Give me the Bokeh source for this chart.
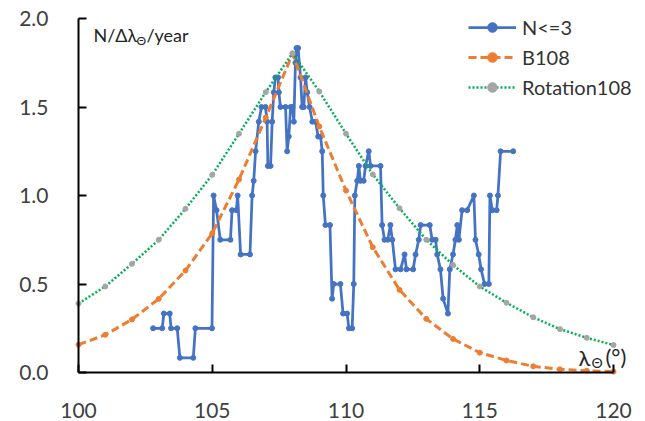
from bokeh.plotting import figure
from bokeh.models import Label, Legend, LegendItem, FixedTicker, Range1d
from bokeh.embed import file_html
from bokeh.resources import INLINE

# ---------------- data ----------------
deg = [100, 101, 102, 103, 104, 105, 106, 107, 108, 109, 110,
       111, 112, 113, 114, 115, 116, 117, 118, 119, 120]
b108 = [0.157, 0.213, 0.300, 0.416, 0.576, 0.787, 1.090, 1.440, 1.800, 1.390, 1.028,
        0.708, 0.467, 0.303, 0.190, 0.112, 0.068, 0.035, 0.018, 0.010, 0.005]
rot108 = [0.390, 0.486, 0.614, 0.750, 0.925, 1.117, 1.349, 1.584, 1.804, 1.588, 1.349,
          1.119, 0.928, 0.750, 0.608, 0.486, 0.394, 0.312, 0.245, 0.196, 0.155]

n3_x = [102.79, 103.13, 103.19, 103.41, 103.46, 103.69, 103.79, 104.29, 104.37, 104.99,
        105.05, 105.16, 105.30, 105.68, 105.74, 105.90, 105.95, 106.06, 106.41, 106.49,
        106.55, 106.62, 106.74, 106.84, 106.99, 107.05, 107.08, 107.18, 107.24, 107.30,
        107.36, 107.46, 107.49, 107.55, 107.74, 107.80, 107.86, 107.93, 108.00, 108.05,
        108.11, 108.15, 108.21, 108.30, 108.36, 108.42, 108.49, 108.55, 108.64, 108.74,
        108.86, 108.96, 109.05, 109.11, 109.15, 109.23, 109.40, 109.48, 109.54, 109.79,
        109.89, 110.04, 110.11, 110.23, 110.29, 110.33, 110.42, 110.48, 110.54, 110.66,
        110.73, 110.85, 110.92, 111.29, 111.35, 111.44, 111.56, 111.66, 111.73, 111.85,
        112.04, 112.19, 112.26, 112.51, 112.60, 112.72, 112.79, 113.13, 113.22, 113.35,
        113.41, 113.53, 113.63, 113.81, 113.88, 114.00, 114.09, 114.16, 114.22, 114.34,
        114.53, 114.78, 114.84, 114.96, 115.05, 115.18, 115.34, 115.38, 115.47, 115.63,
        115.68, 115.78, 116.25]
n3_y = [0.250, 0.250, 0.333, 0.333, 0.250, 0.250, 0.083, 0.083, 0.250, 0.250,
        1.000, 0.917, 0.750, 0.750, 0.917, 0.917, 1.000, 0.667, 0.667, 1.000,
        1.083, 1.250, 1.417, 1.500, 1.500, 1.417, 1.167, 1.167, 1.417, 1.583,
        1.667, 1.667, 1.583, 1.500, 1.500, 1.250, 1.333, 1.500, 1.500, 1.417,
        1.750, 1.833, 1.833, 1.667, 1.500, 1.500, 1.667, 1.583, 1.500, 1.417,
        1.417, 1.333, 1.333, 1.250, 1.000, 0.833, 0.833, 0.417, 0.500, 0.500,
        0.333, 0.333, 0.250, 0.250, 0.500, 1.000, 1.083, 1.167, 1.083, 1.083,
        1.167, 1.250, 1.167, 1.167, 0.833, 0.750, 0.750, 0.833, 0.750, 0.583,
        0.583, 0.667, 0.583, 0.583, 0.667, 0.750, 0.833, 0.833, 0.750, 0.750,
        0.667, 0.583, 0.417, 0.333, 0.583, 0.667, 0.750, 0.833, 0.750, 0.917,
        0.917, 1.000, 0.750, 0.667, 0.583, 0.500, 0.500, 1.000, 0.917, 0.917,
        1.000, 1.250, 1.250]

x_ticks = [100, 105, 110, 115, 120]
y_ticks = [0.0, 0.5, 1.0, 1.5, 2.0]
series_names = ["N<=3", "B108", "Rotation108"]

# ---------------- styles ----------------
BLUE = "#4472C4"
ORANGE = "#ED7D31"
GREEN = "#00B050"
GRAY = "#A5A5A5"
TXT = "#404040"
FONT = "Lato"

# The frame covers the whole canvas; both axes sit at fixed data locations
# (x axis at y=0, y axis at x=100) and are bounded to the data span.
p = figure(width=645, height=421,
           x_range=Range1d(97.084, 121.196), y_range=Range1d(-0.2768, 2.1017),
           output_backend="svg", toolbar_location=None,
           min_border_left=0, min_border_right=0, min_border_top=0, min_border_bottom=0)
p.grid.visible = False
p.outline_line_color = None
p.background_fill_color = "white"
p.border_fill_color = "white"

for ax in (p.xaxis[0], p.yaxis[0]):
    ax.axis_line_color = "black"
    ax.axis_line_width = 2
    ax.major_tick_line_color = "black"
    ax.major_tick_line_width = 2
    ax.major_tick_in = 8
    ax.major_tick_out = 0
    ax.minor_tick_line_color = None
    ax.minor_tick_in = 0
    ax.minor_tick_out = 0
    ax.major_label_text_font = FONT
    ax.major_label_text_font_size = "21px"
    ax.major_label_text_color = TXT

p.xaxis[0].ticker = FixedTicker(ticks=x_ticks)
p.xaxis[0].bounds = (x_ticks[0], x_ticks[-1])
p.xaxis[0].fixed_location = y_ticks[0]
p.xaxis[0].major_label_standoff = 30
p.yaxis[0].ticker = FixedTicker(ticks=y_ticks)
p.yaxis[0].bounds = (y_ticks[0], y_ticks[-1])
p.yaxis[0].fixed_location = x_ticks[0]
p.yaxis[0].major_label_overrides = {v: f"{v:.1f}" for v in y_ticks}
p.yaxis[0].major_label_standoff = 30

r_n_line = p.line(n3_x, n3_y, line_color=BLUE, line_width=2.75)
r_n_pts = p.scatter(n3_x, n3_y, size=5, fill_color=BLUE, line_color=BLUE)
r_b_line = p.line(deg, b108, line_color=ORANGE, line_width=3, line_dash="8 4")
r_b_pts = p.scatter(deg, b108, size=5, fill_color=ORANGE, line_color=ORANGE)
r_r_line = p.line(deg, rot108, line_color=GREEN, line_width=2.5, line_dash="2 2")
r_r_pts = p.scatter(deg, rot108, size=5, fill_color=GRAY, line_color=GRAY)

legend = Legend(items=[
    LegendItem(label=series_names[0], renderers=[r_n_line, r_n_pts]),
    LegendItem(label=series_names[1], renderers=[r_b_line, r_b_pts]),
    LegendItem(label=series_names[2], renderers=[r_r_line, r_r_pts]),
], location=(468, 322))
legend.glyph_width = 48
legend.glyph_height = 24
legend.label_height = 24
legend.spacing = 6
legend.padding = 0
legend.margin = 0
legend.label_standoff = 6
legend.border_line_color = None
legend.background_fill_alpha = 0
legend.label_text_font = FONT
legend.label_text_font_size = "20px"
legend.label_text_color = "#333333"
p.add_layout(legend)

# axis titles (placed inside the plot area as in the original)
def lab(x, y, text, size, color="#262626"):
    p.add_layout(Label(x=x, y=y, x_units="data", y_units="data", text=text,
                       text_font=FONT, text_font_size=size, text_color=color,
                       text_baseline="alphabetic", text_align="left"))

lab(100.56, 1.904, "N/Δλ", "18px")
lab(102.17, 1.876, "Θ", "12px")
lab(102.54, 1.904, "/year", "18px")

lab(118.69, 0.085, "λ", "22px")
lab(119.18, 0.057, "Θ", "14px")
lab(119.70, 0.090, "(°)", "22px")

open("out.html", "w").write(file_html(p, INLINE))
